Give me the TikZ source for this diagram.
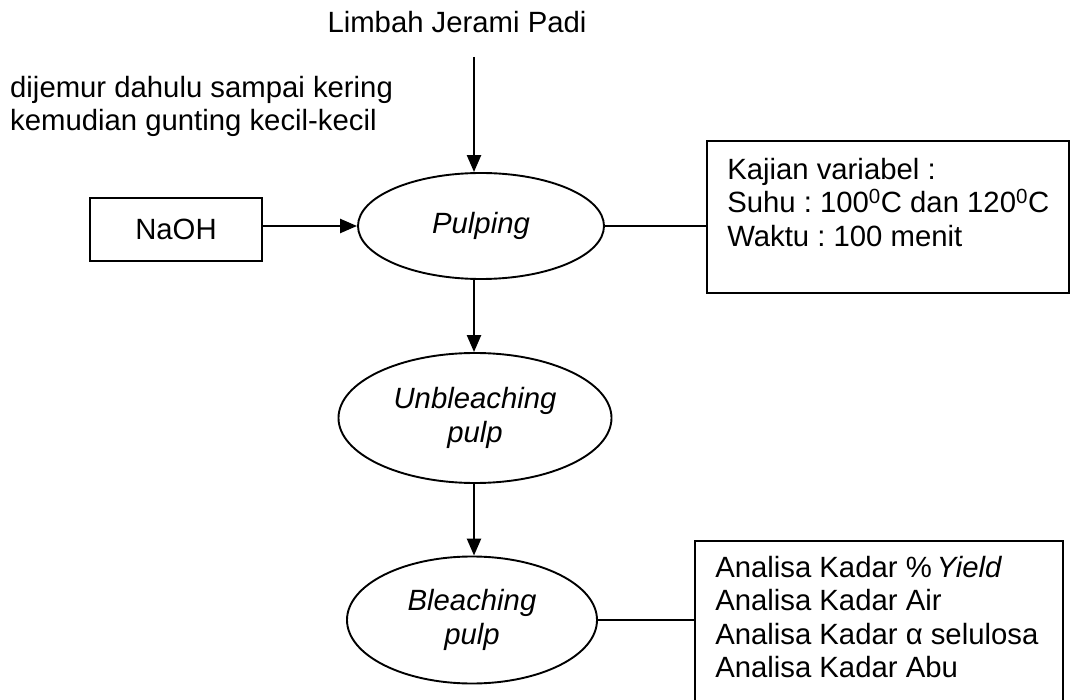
\documentclass[tikz,border=0pt]{standalone}
\usepackage{fontspec}
\setmainfont{Liberation Sans}
\usetikzlibrary{shapes.geometric,arrows.meta,calc}
\frenchspacing
\begin{document}
\begin{tikzpicture}[x=1pt,y=-1pt,
  every node/.style={font=\fontsize{29.3}{33.5}\selectfont},
  proc/.style={ellipse, draw, line width=1.9pt, inner sep=0pt, align=center,
    font=\fontsize{29.3}{33.5}\selectfont\itshape},
  frame/.style={draw, line width=1.9pt, inner sep=0pt},
  label/.style={inner sep=0pt, align=left},
  arr/.style={line width=2.4pt, -{Triangle[length=17pt,width=14pt]}},
  link/.style={line width=1.9pt}]
\clip (0,0) rectangle (1071,700);

% input material and preparation note
\node[anchor=base, inner sep=0pt] (raw) at (457,33) {Limbah Jerami Padi};
\coordinate (rawend) at (474,57);
\node[label, anchor=north west] (prep) at (10,76)
  {dijemur dahulu sampai kering\\kemudian gunting kecil-kecil};

% chemical input
\node[frame, minimum width=172pt, minimum height=63pt] (naoh) at (176,229.5) {NaOH};

% process stages
\node[proc, minimum width=246pt, minimum height=106pt] (pulp) at (481,226) {Pulping};
\node[proc, minimum width=273pt, minimum height=130pt] (unb) at (475,418) {Unbleaching\\pulp};
\node[proc, minimum width=250pt, minimum height=127pt] (bl) at (472,620) {Bleaching\\pulp};

% side boxes
\node[frame, minimum width=362pt, minimum height=152pt] (kajian) at (888,217) {};
\node[label, anchor=north west] (kajiantxt) at ($(kajian.north west)+(21,18)$)
  {Kajian variabel :\\Suhu : 100\textsuperscript{0}C dan 120\textsuperscript{0}C\\Waktu : 100 menit};
\node[frame, minimum width=368pt, minimum height=179pt] (analisa) at (879,630.5) {};
\node[label, anchor=north west] (analisatxt) at ($(analisa.north west)+(21,16)$)
  {Analisa Kadar \%\,\textit{Yield}\\Analisa Kadar Air\\Analisa Kadar α selulosa\\Analisa Kadar Abu};

% connectors
\draw[arr] (rawend) -- (rawend |- pulp.north);
\draw[arr] (naoh.east |- pulp.west) -- (pulp.west);
\draw[link] (pulp.east) -- (pulp.east -| kajian.west);
\draw[arr] (pulp.south -| rawend) -- (unb.north -| rawend);
\draw[arr] (unb.south -| rawend) -- (bl.north -| rawend);
\draw[link] (bl.east) -- (bl.east -| analisa.west);
\end{tikzpicture}
\end{document}
